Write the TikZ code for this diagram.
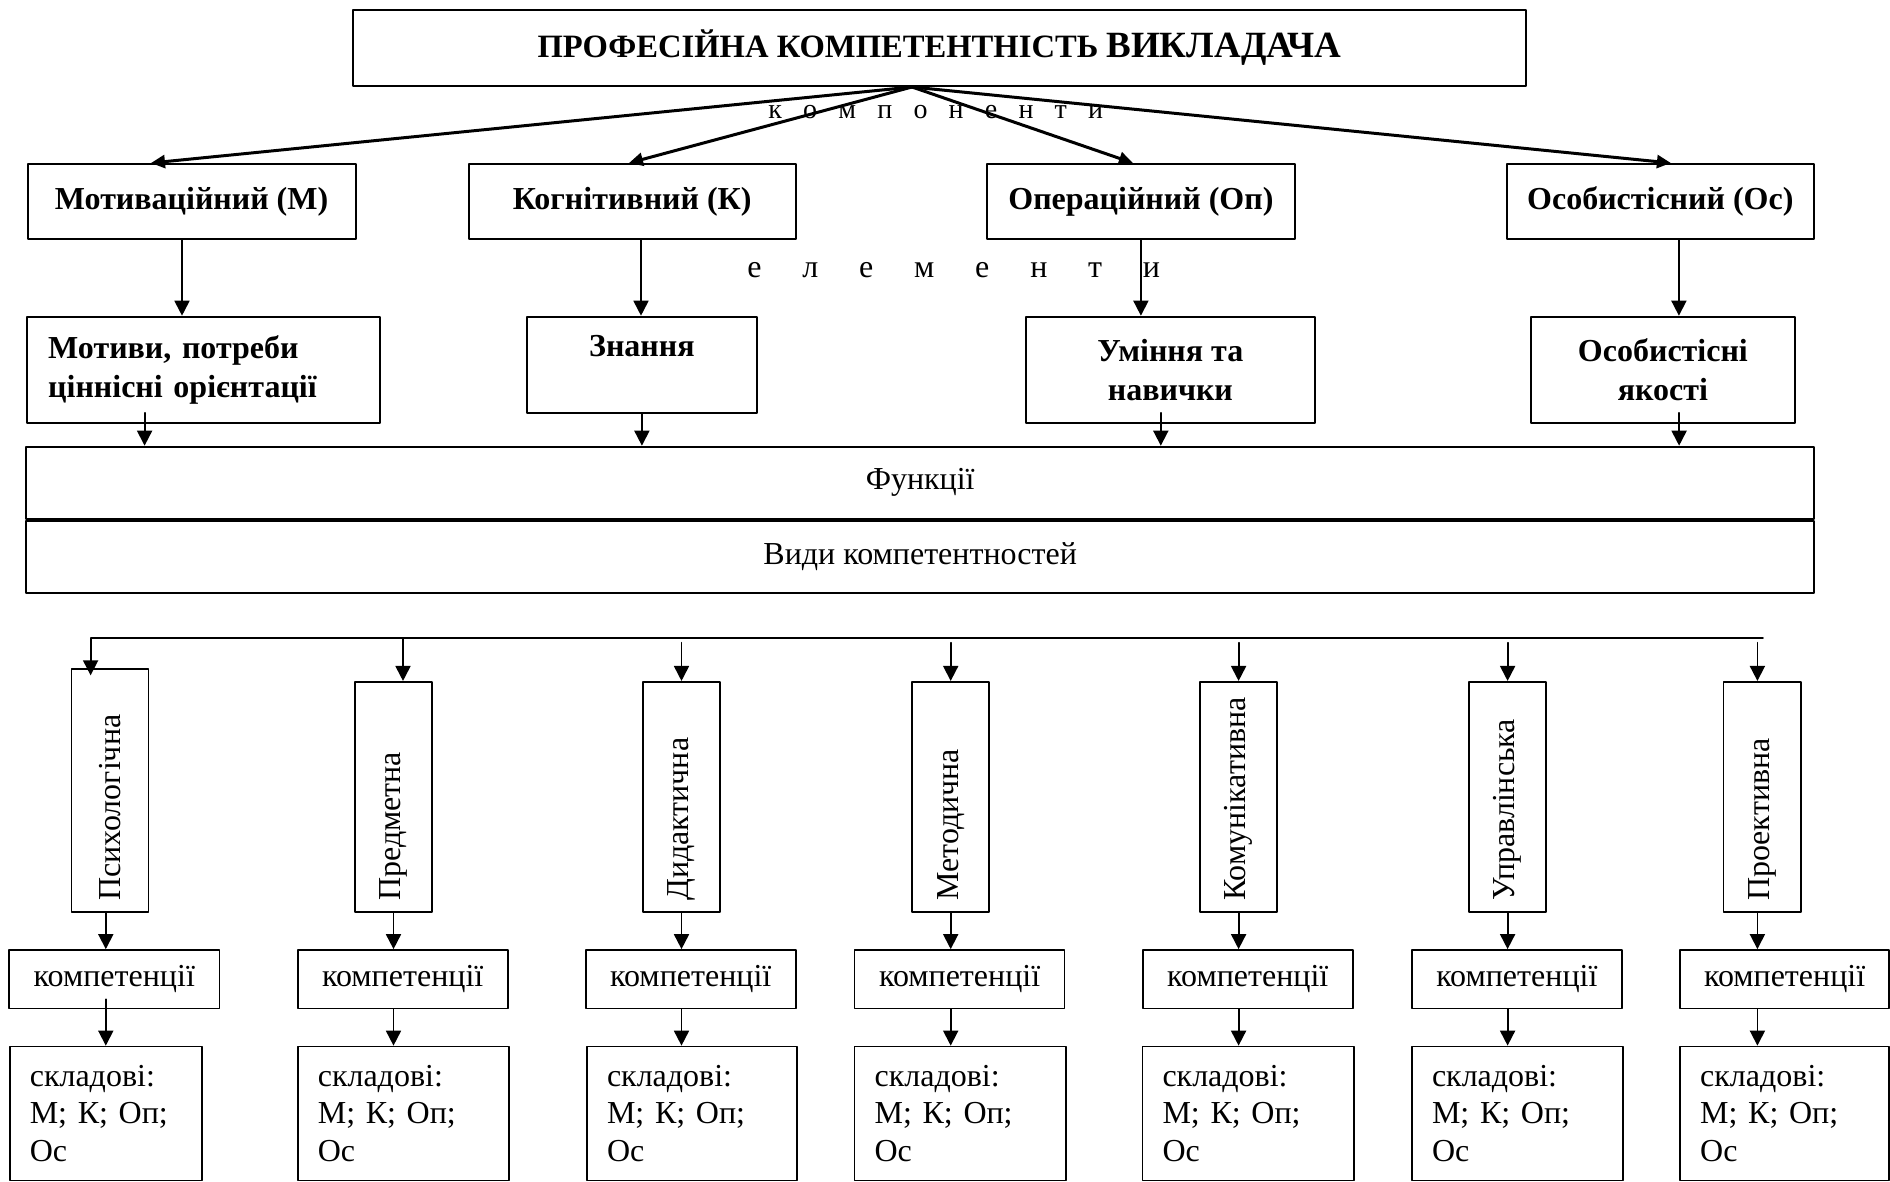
\documentclass[tikz,border=0pt]{standalone}
\usepackage{fontspec}
\setmainfont{Liberation Serif}
\usetikzlibrary{arrows.meta,positioning}
\frenchspacing

\begin{document}
\begin{tikzpicture}[line cap=round,line join=round,>={Triangle[length=7.5pt,width=7.5pt]},x=0.5pt,y=-0.5pt,
  box/.style={draw,line width=0.85pt,inner sep=0pt,font=\fontsize{16}{19.5}\selectfont},
  topbox/.style={draw,line width=1pt,inner sep=0pt,font=\fontsize{16}{19.5}\selectfont\bfseries},
  kind/.style={box,minimum width=38.6pt,inner ysep=5.5pt,text depth=0pt,text height=104pt},
  part/.style={box,inner xsep=10pt,align=left,font=\fontsize{16}{18.75}\selectfont},
  arr/.style={->,line width=0.9pt},
  bigarr/.style={-{Triangle[length=7pt,width=6.5pt]},line width=1.5pt}]
\useasboundingbox (0,0) rectangle (1890,1182);
%title and components
\node[topbox,minimum width=586.5pt,minimum height=38pt,font=\fontsize{16.3}{19.5}\selectfont\bfseries] (title) at (939.5,48) {ПРОФЕСІЙНА КОМПЕТЕНТНІСТЬ {\fontsize{18.5}{20}\selectfont ВИКЛАДАЧА}};
\node[topbox,minimum width=164pt,minimum height=37.5pt] (motiv) at (191.6,201.5) {Мотиваційний (М)};
\node[topbox,minimum width=163.4pt,minimum height=37.5pt] (cogn) at (632.2,201.5) {Когнітивний (К)};
\node[topbox,minimum width=153.7pt,minimum height=37.5pt] (oper) at (1140.9,201.5) {Операційний (Оп)};
\node[topbox,minimum width=153.6pt,minimum height=37.5pt] (pers) at (1660.3,201.5) {Особистісний (Ос)};
\coordinate (hub) at ([xshift=-13.75pt]title.south);
\draw[bigarr] (hub) -- ([xshift=-20.3pt]motiv.north);
\draw[bigarr] (hub) -- ([xshift=-1.6pt]cogn.north);
\draw[bigarr] (hub) -- ([xshift=-4pt]oper.north);
\draw[bigarr] (hub) -- ([xshift=5.3pt]pers.north);
\node[anchor=base west,inner sep=0pt,font=\fontsize{14}{16}\selectfont] (compword) at (768,119) {\spaceskip=10.6pt к о м п о н е н т и};
%elements
\node[topbox,minimum width=176.6pt,minimum height=53.2pt,inner xsep=10.85pt,text width=154.9pt,align=left] (motives) at (203.1,369.9) {Мотиви, потреби\\ціннісні орієнтації};
\node[topbox,minimum width=115.1pt,minimum height=48.3pt,align=center] (knowl) at (641.9,365) {Знання\\\mbox{}};
\node[topbox,minimum width=144.6pt,minimum height=53.2pt,align=center] (skills) at (1170.4,369.9) {Уміння та\\навички};
\node[topbox,minimum width=132pt,minimum height=53.2pt,align=center] (qual) at (1662.9,369.9) {Особистісні\\якості};
\node[anchor=base west,inner sep=0pt,font=\fontsize{16}{18}\selectfont] (elemword) at (747,278) {\spaceskip=20.4pt е л е м е н т и};
\draw[arr] ([xshift=-4.8pt]motiv.south) -- ([xshift=-4.8pt]motiv.south |- motives.north);
\draw[arr] ([xshift=4.4pt]cogn.south) -- ([xshift=4.4pt]cogn.south |- knowl.north);
\draw[arr] (oper.south) -- (oper.south |- skills.north);
\draw[arr] ([xshift=9.3pt]pers.south) -- ([xshift=9.3pt]pers.south |- qual.north);
%functions
\node[box,line width=1pt,minimum width=893.75pt,minimum height=36pt] (func) at (920.2,482.7) {Функції};
\node[box,line width=1pt,minimum width=893.75pt,minimum height=36pt,below=0pt of func] (kinds) {Види компетентностей};
\draw[arr] ([xshift=-29.25pt,yshift=5.6pt]motives.south) -- ([xshift=-29.25pt]motives.south |- func.north);
\draw[arr] (knowl.south) -- (knowl.south |- func.north);
\draw[arr] ([xshift=-4.8pt,yshift=5.6pt]skills.south) -- ([xshift=-4.8pt]skills.south |- func.north);
\draw[arr] ([xshift=8.1pt,yshift=5.6pt]qual.south) -- ([xshift=8.1pt]qual.south |- func.north);
%kinds of competence
\node[kind,text height=110.5pt] (t1) at (110,790.3) {\rotatebox{90}{Психологічна}};
\node[kind] (t2) at (393.5,796.8) {\rotatebox{90}{Предметна}};
\node[kind] (t3) at (681.5,796.8) {\rotatebox{90}{Дидактична}};
\node[kind] (t4) at (950.7,796.8) {\rotatebox{90}{Методична}};
\node[kind] (t5) at (1238.6,796.8) {\rotatebox{90}{Комунікативна}};
\node[kind] (t6) at (1507.6,796.8) {\rotatebox{90}{Управлінська}};
\node[kind] (t7) at (1762.1,796.8) {\rotatebox{90}{Проективна}};
\coordinate (busL) at (90.6,638);
\coordinate (busR) at (1763,638);
\draw[arr] (busR) -- (busL) -- ([yshift=-3.7pt]t1.north -| busL);
\draw[arr] ([xshift=4.75pt]t2.north |- busL) -- ([xshift=4.75pt]t2.north);
\draw[arr] ([yshift=-2.35pt]t3.north |- busL) -- (t3.north);
\draw[arr] ([yshift=-2.35pt]t4.north |- busL) -- (t4.north);
\draw[arr] ([yshift=-2.35pt]t5.north |- busL) -- (t5.north);
\draw[arr] ([yshift=-2.35pt]t6.north |- busL) -- (t6.north);
\draw[arr] ([xshift=-2.35pt,yshift=-2.35pt]t7.north |- busL) -- ([xshift=-2.35pt]t7.north);
%competences
\node[box,minimum width=105.3pt,minimum height=29.2pt] (k1) at (114.3,979.2) {компетенції};
\node[box,minimum width=105pt,minimum height=29.2pt] (k2) at (402.7,979.2) {компетенції};
\node[box,minimum width=105pt,minimum height=29.2pt] (k3) at (690.7,979.2) {компетенції};
\node[box,minimum width=105pt,minimum height=29.2pt] (k4) at (959.6,979.2) {компетенції};
\node[box,minimum width=105pt,minimum height=29.2pt] (k5) at (1247.7,979.2) {компетенції};
\node[box,minimum width=105pt,minimum height=29.2pt] (k6) at (1516.8,979.2) {компетенції};
\node[box,minimum width=104.4pt,minimum height=29.2pt] (k7) at (1784.6,979.2) {компетенції};
\node[part,minimum width=96pt,minimum height=67pt,text width=76pt] (s1) at (105.8,1113.5) {складові:\\М; К; Оп;\\Ос};
\node[part,minimum width=105.5pt,minimum height=67pt,text width=85.5pt] (s2) at (403.3,1113.5) {складові:\\М; К; Оп;\\Ос};
\node[part,minimum width=105pt,minimum height=67pt,text width=85pt] (s3) at (692,1113.5) {складові:\\М; К; Оп;\\Ос};
\node[part,minimum width=105.7pt,minimum height=67pt,text width=85.7pt] (s4) at (960.3,1113.5) {складові:\\М; К; Оп;\\Ос};
\node[part,minimum width=105.9pt,minimum height=67pt,text width=85.9pt] (s5) at (1248.4,1113.5) {складові:\\М; К; Оп;\\Ос};
\node[part,minimum width=105.5pt,minimum height=67pt,text width=85.5pt] (s6) at (1517.5,1113.5) {складові:\\М; К; Оп;\\Ос};
\node[part,minimum width=104.4pt,minimum height=67pt,text width=84.4pt] (s7) at (1784.6,1113.5) {складові:\\М; К; Оп;\\Ос};
\draw[arr] ([xshift=-2.1pt]t1.south) -- ([xshift=-2.1pt]t1.south |- k1.north);
\draw[arr] (t2.south) -- (t2.south |- k2.north);
\draw[arr] (t3.south) -- (t3.south |- k3.north);
\draw[arr] (t4.south) -- (t4.south |- k4.north);
\draw[arr] (t5.south) -- (t5.south |- k5.north);
\draw[arr] (t6.south) -- (t6.south |- k6.north);
\draw[arr] ([xshift=-2.35pt]t7.south) -- ([xshift=-2.35pt]t7.south |- k7.north);
\draw[arr] ([xshift=-2.1pt,yshift=5pt]t1.south |- k1.south) -- ([xshift=-2.1pt]t1.south |- s1.north);
\draw[arr] (t2.south |- k2.south) -- (t2.south |- s2.north);
\draw[arr] (t3.south |- k3.south) -- (t3.south |- s3.north);
\draw[arr] (t4.south |- k4.south) -- (t4.south |- s4.north);
\draw[arr] (t5.south |- k5.south) -- (t5.south |- s5.north);
\draw[arr] (t6.south |- k6.south) -- (t6.south |- s6.north);
\draw[arr] ([xshift=-2.35pt]t7.south |- k7.south) -- ([xshift=-2.35pt]t7.south |- s7.north);
\end{tikzpicture}
\end{document}
